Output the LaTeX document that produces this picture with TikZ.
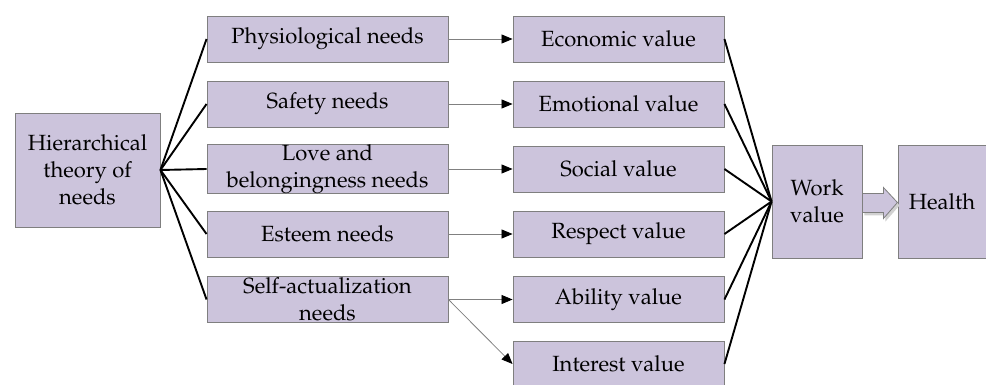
\documentclass[tikz,border=0pt]{standalone}
\usepackage[T1]{fontenc}
\usepackage{mathpazo}
\usetikzlibrary{arrows.meta}
\definecolor{boxfill}{HTML}{CCC4DC}
\definecolor{boxline}{HTML}{7F7F7F}
\begin{document}
\begin{tikzpicture}[x=1pt,y=-1pt,
  box/.style={draw=boxline,fill=boxfill,line width=0.9pt,inner sep=0pt,align=center,
    font=\fontsize{22}{27}\selectfont},
  needbox/.style={box,minimum width=241pt,minimum height=46pt},
  valbox/.style={box,minimum width=211pt,minimum height=46pt},
  fan/.style={line width=1.9pt,black},
  link/.style={draw=gray,line width=0.8pt,-{Triangle[length=11pt,width=9pt,color=black]}}]
\useasboundingbox (0,0) rectangle (986,385);

% source concept
\node[box,minimum width=145pt,minimum height=114pt] (src) at (87.5,170) {Hierarchical\\theory of\\needs};

% need levels
\node[needbox] (n1) at (327.5,39)  {Physiological needs};
\node[needbox] (n2) at (327.5,104) {Safety needs};
\node[needbox] (n3) at (327.5,169) {Love and\\belongingness needs};
\node[needbox] (n4) at (327.5,234) {Esteem needs};
\node[needbox] (n5) at (327.5,299.5) {Self-actualization\\needs};

% values
\node[valbox] (v1) at (618.5,39)  {Economic value};
\node[valbox] (v2) at (618.5,104) {Emotional value};
\node[valbox] (v3) at (618.5,169) {Social value};
\node[valbox] (v4) at (618.5,234) {Respect value};
\node[valbox] (v5) at (618.5,299.5) {Ability value};
\node[valbox] (v6) at (618.5,364) {Interest value};

% outcome
\node[box,minimum width=90pt,minimum height=113pt] (work) at (817,201.5) {Work\\value};
\node[box,minimum width=88pt,minimum height=113pt,anchor=west] (health) at (897.5,201.5) {Health};

% fan-out from the source
\foreach \n in {n1,n2,n3,n4,n5}
  \draw[fan] (src.east) -- (\n.west);

% need -> value
\draw[link] (n1.east) -- (v1.west);
\draw[link] (n2.east) -- (v2.west);
\draw[link] (n3.east) -- (v3.west);
\draw[link] (n4.east) -- (v4.west);
\draw[link] (n5.east) -- (v5.west);
\draw[link] (n5.east) -- (v6.west);

% fan-in to work value
\foreach \v in {v1,v2,v3,v4,v5,v6}
  \draw[fan] (\v.east) -- (work.west);

% block arrow work -> health
\coordinate (ba) at (work.east);
\coordinate (bb) at (health.west);
\fill[black!18] ([shift={(2,3)}]ba) ++(0,-8) -- ++(21,0) -- ++(0,-6) -- ++(14,15) -- ++(-14,16) -- ++(0,-6) -- ++(-21,0) -- cycle;
\filldraw[fill=boxfill,draw=boxline,line width=0.8pt]
  (ba) ++(0,-8) -- ++(21,0) -- ++(0,-6) -- ++(14,15) -- ++(-14,16) -- ++(0,-6) -- ++(-21,0) -- cycle;
\end{tikzpicture}
\end{document}
